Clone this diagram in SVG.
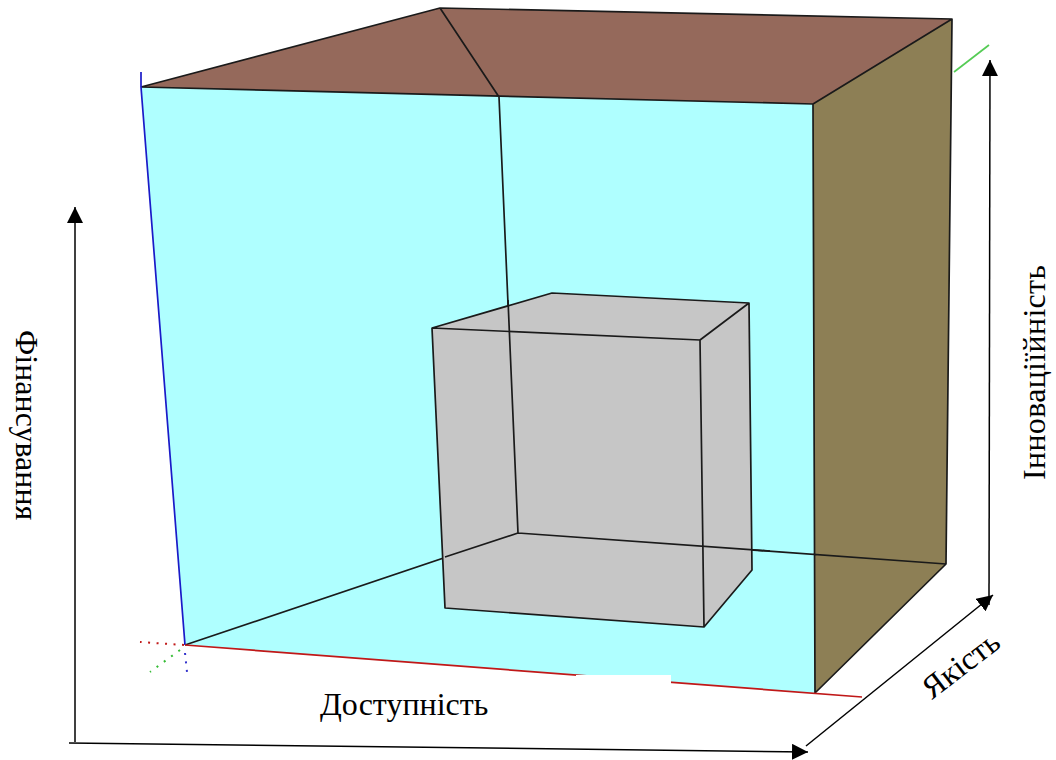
<svg xmlns="http://www.w3.org/2000/svg" width="1056" height="760" viewBox="0 0 1056 760">
<style>
text{font-family:"Liberation Serif","Times New Roman",serif;font-size:32px;fill:#000}
.e{fill:none;stroke:#1a1a1a;stroke-width:1.7;stroke-linejoin:round}
.a{fill:none;stroke:#000;stroke-width:1.5}
</style>
<defs><marker id="h" markerUnits="userSpaceOnUse" markerWidth="18" markerHeight="16" refX="16" refY="8" orient="auto"><path d="M0 0L16 8L0 16Z" fill="#000"/></marker></defs>
<rect width="1056" height="760" fill="#fff"/>
<g id="outer-box">
<polygon points="141,87 813,104 815,693 185,645" fill="#afffff"/>
<polygon points="141,87 440,8 952,19 813,104" fill="#95695b"/>
<polygon points="813,104 952,19 946,564 815,693" fill="#8d7f55"/>
<path class="e" d="M141,87L440,8L952,19L813,104L141,87M440,8L499,97L518,533L185,645M518,533L946,564L815,693L813,104M952,19L946,564"/>
<path d="M141,72L141,87L185,645" fill="none" stroke="#1a1ac8" stroke-width="1.7"/>
<path d="M185,645L862,697" fill="none" stroke="#c01818" stroke-width="1.7"/>
<path d="M954,72L989,45" fill="none" stroke="#55cc55" stroke-width="1.7"/>
<path d="M184,645L140,642" fill="none" stroke="#c01818" stroke-width="2" stroke-dasharray="2 6.5"/>
<path d="M180,650L150,672" fill="none" stroke="#33bb33" stroke-width="2" stroke-dasharray="2 7"/>
<path d="M185,653L187,672" fill="none" stroke="#3333cc" stroke-width="2" stroke-dasharray="2 6.5"/>
</g>
<g id="inner-box">
<polygon points="432,328 552,293 749,303 752,570 704,627 445,608" fill="#c6c6c6"/>
<path class="e" d="M432,328L552,293L749,303L700,340L432,328L445,608L704,627L752,570L749,303M700,340L704,627"/>
<path class="e" d="M508,300L518,533L445,557M518,533L770,551"/>
</g>
<rect x="576" y="675" width="95" height="30" fill="#fff"/>
<g id="connectors">
<path class="a" d="M75,742L75,207" marker-end="url(#h)"/>
<path class="a" d="M69,743L808,752" marker-end="url(#h)"/>
<path class="a" d="M806,746L993,595" marker-end="url(#h)"/>
<path class="a" d="M989,605L990,60" marker-end="url(#h)"/>
</g>
<g id="labels">
<text x="320" y="715">Доступність</text>
<text transform="translate(16,330) rotate(90)">Фінансування</text>
<text transform="translate(1045,480) rotate(-90)" textLength="215">Інноваціїйність</text>
<text transform="translate(932,700) rotate(-37.5)">Якість</text>
</g>
</svg>
